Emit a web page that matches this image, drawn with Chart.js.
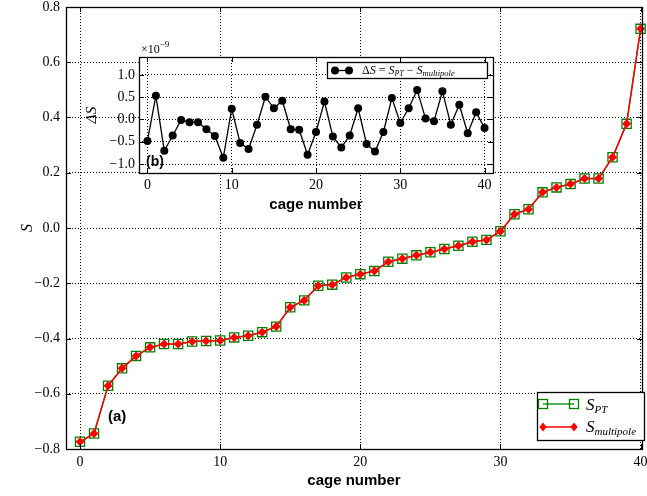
<!DOCTYPE html>
<html>
<head>
<meta charset="utf-8">
<script src="https://cdn.jsdelivr.net/npm/chart.js@4.4.0/dist/chart.umd.min.js"></script>
<style>
  body { margin: 0; background: #fff; }
  #wrap { position: relative; width: 647px; height: 496px; }
  #wrap canvas { position: absolute; left: 0; top: 0; }
</style>
</head>
<body>
<div id="wrap">
  <canvas id="mainChart" width="647" height="496"></canvas>
  <canvas id="insetChart" width="647" height="496"></canvas>
</div>
<script>
// cage numbers and values
const cages = [0, 1, 2, 3, 4, 5, 6, 7, 8, 9, 10, 11, 12, 13, 14, 15, 16, 17, 18, 19, 20,
  21, 22, 23, 24, 25, 26, 27, 28, 29, 30, 31, 32, 33, 34, 35, 36, 37, 38, 39, 40];

const sPT = [-0.774, -0.744, -0.571, -0.508, -0.463, -0.432, -0.420, -0.420, -0.411, -0.409,
  -0.407, -0.396, -0.390, -0.377, -0.357, -0.287, -0.262, -0.209, -0.205, -0.179,
  -0.167, -0.156, -0.122, -0.111, -0.099, -0.088, -0.076, -0.064, -0.050, -0.043,
  -0.012, 0.050, 0.068, 0.129, 0.147, 0.159, 0.179, 0.179, 0.256, 0.377, 0.721];

const sMultipole = [-0.774, -0.744, -0.571, -0.508, -0.463, -0.432, -0.420, -0.420, -0.411, -0.409,
  -0.407, -0.396, -0.390, -0.377, -0.357, -0.287, -0.262, -0.209, -0.205, -0.179,
  -0.167, -0.156, -0.122, -0.111, -0.099, -0.088, -0.076, -0.064, -0.050, -0.043,
  -0.012, 0.050, 0.068, 0.129, 0.147, 0.159, 0.179, 0.179, 0.256, 0.377, 0.721];

// delta S in units of 1e-9
const deltaS = [-0.48, 0.53, -0.70, -0.36, -0.01, -0.06, -0.06, -0.22, -0.37, -0.86,
  0.24, -0.53, -0.66, -0.12, 0.51, 0.25, 0.42, -0.22, -0.23, -0.79,
  -0.28, 0.40, -0.38, -0.63, -0.36, 0.25, -0.55, -0.72, -0.28, 0.48,
  -0.08, 0.25, 0.66, 0.02, -0.04, 0.63, -0.12, 0.33, -0.31, 0.16, -0.19];

const xTicks = [0, 10, 20, 30, 40];
const mainYTicks = [-0.8, -0.6, -0.4, -0.2, 0.0, 0.2, 0.4, 0.6, 0.8];
const insetYTicks = [-1.0, -0.5, 0.0, 0.5, 1.0];

const GREEN = '#008000';
const RED = '#ff0000';
const SERIF = "'Liberation Serif', 'DejaVu Serif', serif";
const SANS = "'Liberation Sans', Arial, sans-serif";

Chart.defaults.color = '#000';
Chart.defaults.font.family = SERIF;
Chart.defaults.animation = false;

const pts = vals => cages.map((c, i) => ({ x: c, y: vals[i] }));
const minus = s => s.replace('-', '\u2212');
const setTicks = arr => s => { s.ticks = arr.map(v => ({ value: v })); };
// fixed axis size, and no extra padding for overhanging labels
const fixSize = (w, h) => s => {
  if (w != null) s.width = w;
  if (h != null) s.height = h;
  s.paddingTop = s.paddingBottom = s.paddingLeft = s.paddingRight = 0;
};

const gridOpts = { color: '#000', lineWidth: 1, drawTicks: false };
const borderOpts = { display: false, dash: [1, 2] };

// draws text pieces side by side (for sub/superscripts)
function drawMath(ctx, parts, x, y) {
  parts.forEach(p => {
    ctx.font = p.font;
    ctx.fillText(p.t, x, y + (p.dy || 0));
    x += ctx.measureText(p.t).width + (p.gap || 0);
  });
  return x;
}

function square(ctx, x, y, s) {
  ctx.strokeRect(x - s / 2, y - s / 2, s, s);
}
function diamond(ctx, x, y, r) {
  ctx.beginPath();
  ctx.moveTo(x, y - r); ctx.lineTo(x + r * 0.8, y); ctx.lineTo(x, y + r); ctx.lineTo(x - r * 0.8, y);
  ctx.closePath(); ctx.fill();
}

// white area, frame and inward ticks like matplotlib
const frame = {
  id: 'frame',
  beforeDraw(chart) {
    if (chart.canvas.id !== 'insetChart') return;
    const { ctx, chartArea: a } = chart;
    ctx.save();
    ctx.fillStyle = '#fff';
    ctx.fillRect(a.left, a.top, a.right - a.left, a.bottom - a.top);
    ctx.restore();
  },
  afterDraw(chart) {
    const { ctx, chartArea: a, scales: { x, y } } = chart;
    ctx.save();
    ctx.strokeStyle = '#000';
    ctx.lineWidth = 1;
    ctx.beginPath();
    x.ticks.forEach(t => {
      const p = Math.round(x.getPixelForValue(t.value)) + 0.5;
      ctx.moveTo(p, a.bottom); ctx.lineTo(p, a.bottom - 5);
      ctx.moveTo(p, a.top); ctx.lineTo(p, a.top + 5);
    });
    y.ticks.forEach(t => {
      const p = Math.round(y.getPixelForValue(t.value)) + 0.5;
      ctx.moveTo(a.left, p); ctx.lineTo(a.left + 5, p);
      ctx.moveTo(a.right, p); ctx.lineTo(a.right - 5, p);
    });
    ctx.stroke();
    ctx.lineWidth = 1.3;
    ctx.strokeRect(Math.round(a.left) + 0.5, Math.round(a.top) + 0.5,
      Math.round(a.right - a.left), Math.round(a.bottom - a.top));
    ctx.restore();
  }
};

const mainDecor = {
  id: 'mainDecor',
  afterDraw(chart) {
    const ctx = chart.ctx;
    ctx.save();
    // legend box
    ctx.fillStyle = '#fff';
    ctx.fillRect(537, 392, 108, 49);
    ctx.strokeStyle = '#000';
    ctx.lineWidth = 1.3;
    ctx.strokeRect(537.5, 392.5, 107, 48);

    ctx.strokeStyle = GREEN;
    ctx.lineWidth = 1.3;
    ctx.beginPath(); ctx.moveTo(543, 404); ctx.lineTo(574, 404); ctx.stroke();
    square(ctx, 543, 404, 9);
    square(ctx, 574, 404, 9);

    ctx.strokeStyle = RED;
    ctx.fillStyle = RED;
    ctx.lineWidth = 1.5;
    ctx.beginPath(); ctx.moveTo(543, 427); ctx.lineTo(574, 427); ctx.stroke();
    diamond(ctx, 543, 427, 4.5);
    diamond(ctx, 574, 427, 4.5);

    ctx.fillStyle = '#000';
    ctx.textBaseline = 'alphabetic';
    drawMath(ctx, [
      { t: 'S', font: 'italic 17px ' + SERIF },
      { t: 'PT', font: 'italic 11px ' + SERIF, dy: 3 }
    ], 586, 410);
    drawMath(ctx, [
      { t: 'S', font: 'italic 17px ' + SERIF },
      { t: 'multipole', font: 'italic 11px ' + SERIF, dy: 3 }
    ], 586, 432);

    ctx.font = 'bold 15px ' + SANS;
    ctx.textBaseline = 'middle';
    ctx.fillText('(a)', 108, 417);
    ctx.restore();
  }
};

const insetDecor = {
  id: 'insetDecor',
  afterDraw(chart) {
    const ctx = chart.ctx;
    ctx.save();
    // legend box
    ctx.fillStyle = '#fff';
    ctx.fillRect(327, 62, 161, 17);
    ctx.strokeStyle = '#000';
    ctx.lineWidth = 1.3;
    ctx.strokeRect(327.5, 62.5, 160, 16);
    ctx.beginPath(); ctx.moveTo(335, 70.5); ctx.lineTo(349, 70.5); ctx.stroke();
    ctx.fillStyle = '#000';
    [335, 349].forEach(cx => { ctx.beginPath(); ctx.arc(cx, 70.5, 4, 0, Math.PI * 2); ctx.fill(); });

    ctx.textBaseline = 'alphabetic';
    drawMath(ctx, [
      { t: '\u0394', font: '12px ' + SERIF },
      { t: 'S', font: 'italic 12px ' + SERIF, gap: 3 },
      { t: '=', font: '12px ' + SERIF, gap: 3 },
      { t: 'S', font: 'italic 12px ' + SERIF },
      { t: 'PT', font: 'italic 8px ' + SERIF, dy: 2, gap: 3 },
      { t: '\u2212', font: '12px ' + SERIF, gap: 3 },
      { t: 'S', font: 'italic 12px ' + SERIF },
      { t: 'multipole', font: 'italic 8.5px ' + SERIF, dy: 2 }
    ], 362, 74);

    // offset text of the y axis
    drawMath(ctx, [
      { t: '\u00d710', font: '12px ' + SERIF },
      { t: '\u22129', font: '9px ' + SERIF, dy: -6 }
    ], 141, 52.5);

    ctx.font = 'bold 14px ' + SANS;
    ctx.textBaseline = 'middle';
    ctx.fillText('(b)', 146, 162);
    ctx.restore();
  }
};

new Chart(document.getElementById('mainChart'), {
  type: 'line',
  data: {
    datasets: [
      {
        label: 'S_multipole',
        data: pts(sMultipole),
        borderColor: RED,
        backgroundColor: RED,
        borderWidth: 1.5,
        pointStyle: 'rectRot',
        pointRadius: 4.5,
        pointBorderWidth: 0,
        pointBackgroundColor: RED,
        order: 0,
        clip: false
      },
      {
        label: 'S_PT',
        data: pts(sPT),
        borderColor: GREEN,
        backgroundColor: 'transparent',
        borderWidth: 1.3,
        pointStyle: 'rect',
        pointRadius: 6.5,
        pointBorderWidth: 1.3,
        pointBorderColor: GREEN,
        pointBackgroundColor: 'rgba(0,0,0,0)',
        order: 1,
        clip: false
      }
    ]
  },
  options: {
    responsive: false,
    animation: false,
    layout: { autoPadding: false, padding: { left: 18, right: 5, top: 7, bottom: 6 } },
    plugins: { legend: { display: false }, tooltip: { enabled: false } },
    scales: {
      x: {
        type: 'linear', min: -1, max: 40.1,
        afterBuildTicks: setTicks(xTicks),
        afterFit: fixSize(null, 41),
        grid: gridOpts, border: borderOpts,
        ticks: { padding: 5, font: { size: 14 }, callback: v => String(v), maxRotation: 0 },
        title: { display: true, text: 'cage number', padding: 0, font: { family: SANS, weight: 'bold', size: 15 } }
      },
      y: {
        type: 'linear', min: -0.8, max: 0.8,
        afterBuildTicks: setTicks(mainYTicks),
        afterFit: fixSize(48, null),
        grid: gridOpts, border: borderOpts,
        ticks: { padding: 6, font: { size: 14 }, callback: v => minus(v.toFixed(1)) },
        title: { display: true, text: 'S', padding: 0, font: { style: 'italic', size: 16 } }
      }
    }
  },
  plugins: [frame, mainDecor]
});

new Chart(document.getElementById('insetChart'), {
  type: 'line',
  data: {
    datasets: [{
      label: 'deltaS',
      data: pts(deltaS),
      borderColor: '#000',
      borderWidth: 1.3,
      pointStyle: 'circle',
      pointRadius: 4,
      pointBorderWidth: 0,
      pointBackgroundColor: '#000',
      clip: false
    }]
  },
  options: {
    responsive: false,
    animation: false,
    layout: { autoPadding: false, padding: { left: 83, right: 154, top: 57, bottom: 282 } },
    plugins: { legend: { display: false }, tooltip: { enabled: false } },
    scales: {
      x: {
        type: 'linear', min: -1, max: 41,
        afterBuildTicks: setTicks(xTicks),
        afterFit: fixSize(null, 41),
        grid: gridOpts, border: borderOpts,
        ticks: { padding: 4, font: { size: 14 }, callback: v => String(v), maxRotation: 0 },
        title: { display: true, text: 'cage number', padding: 0, font: { family: SANS, weight: 'bold', size: 15 } }
      },
      y: {
        type: 'linear', min: -1.2, max: 1.4,
        afterBuildTicks: setTicks(insetYTicks),
        afterFit: fixSize(56, null),
        grid: gridOpts, border: borderOpts,
        ticks: { padding: 4, font: { size: 14 }, callback: v => minus(v.toFixed(1)) },
        title: { display: true, text: '\u0394S', padding: 0, font: { style: 'italic', size: 15 } }
      }
    }
  },
  plugins: [frame, insetDecor]
});
</script>
</body>
</html>
